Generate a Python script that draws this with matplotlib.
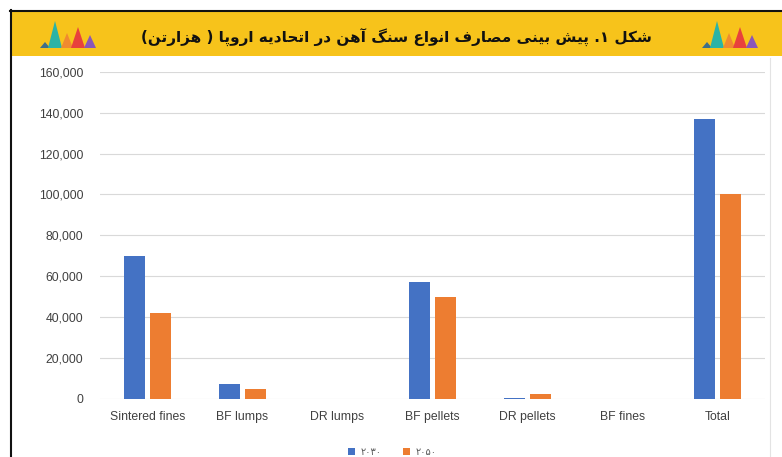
import numpy as np
import matplotlib
matplotlib.use('Agg')
import matplotlib.pyplot as plt
from matplotlib.patches import Rectangle, Polygon
from matplotlib.lines import Line2D
from matplotlib.ticker import FuncFormatter

categories = ['Sintered fines', 'BF lumps', 'DR lumps', 'BF pellets',
              'DR pellets', 'BF fines', 'Total']
values_2030 = [70000, 7500, 0, 57000, 700, 0, 137000]
values_2050 = [42000, 5000, 0, 50000, 2500, 0, 100000]
series_labels = ['۲۰۳۰', '۲۰۵۰']
title = 'شکل ۱. پیش بینی مصارف انواع سنگ آهن در اتحادیه اروپا ( هزارتن)'
y_ticks = [0, 20000, 40000, 60000, 80000, 100000, 120000, 140000, 160000]

# arabic presentation forms: isolated, final, initial, medial
FORMS = {
    'ا': (0xFE8D, 0xFE8E, None, None), 'آ': (0xFE81, 0xFE82, None, None),
    'ب': (0xFE8F, 0xFE90, 0xFE91, 0xFE92), 'پ': (0xFB56, 0xFB57, 0xFB58, 0xFB59),
    'ت': (0xFE95, 0xFE96, 0xFE97, 0xFE98), 'ح': (0xFEA1, 0xFEA2, 0xFEA3, 0xFEA4),
    'د': (0xFEA9, 0xFEAA, None, None), 'ر': (0xFEAD, 0xFEAE, None, None),
    'ز': (0xFEAF, 0xFEB0, None, None), 'س': (0xFEB1, 0xFEB2, 0xFEB3, 0xFEB4),
    'ش': (0xFEB5, 0xFEB6, 0xFEB7, 0xFEB8), 'ص': (0xFEB9, 0xFEBA, 0xFEBB, 0xFEBC),
    'ع': (0xFEC9, 0xFECA, 0xFECB, 0xFECC), 'ف': (0xFED1, 0xFED2, 0xFED3, 0xFED4),
    'ک': (0xFB8E, 0xFB8F, 0xFB90, 0xFB91), 'گ': (0xFB92, 0xFB93, 0xFB94, 0xFB95),
    'ل': (0xFEDD, 0xFEDE, 0xFEDF, 0xFEE0), 'م': (0xFEE1, 0xFEE2, 0xFEE3, 0xFEE4),
    'ن': (0xFEE5, 0xFEE6, 0xFEE7, 0xFEE8), 'ه': (0xFEE9, 0xFEEA, 0xFEEB, 0xFEEC),
    'و': (0xFEED, 0xFEEE, None, None), 'ی': (0xFBFC, 0xFBFD, 0xFBFE, 0xFBFF),
}


def shape_rtl(text):
    out = []
    for i, ch in enumerate(text):
        if ch not in FORMS:
            out.append(ch)
            continue
        prev = text[i - 1] if i > 0 else ''
        nxt = text[i + 1] if i + 1 < len(text) else ''
        dual = FORMS[ch][2] is not None
        join_prev = prev in FORMS and FORMS[prev][2] is not None
        join_next = dual and nxt in FORMS
        iso, fin, ini, med = FORMS[ch]
        if join_prev and join_next:
            code = med
        elif join_prev:
            code = fin
        elif join_next:
            code = ini
        else:
            code = iso
        out.append(chr(code))
    swap = {'(': ')', ')': '('}
    return ''.join(swap.get(c, c) for c in reversed(out))


blue = '#4472C4'
orange = '#ED7D31'
tick_font = ['Liberation Sans Narrow', 'Liberation Sans', 'DejaVu Sans']

fig = plt.figure(figsize=(7.82, 4.57), dpi=100)

# frame and header band in pixel coordinates
deco = fig.add_axes([0, 0, 1, 1], zorder=0)
deco.set_xlim(0, 782)
deco.set_ylim(457, 0)
deco.axis('off')
deco.add_patch(Rectangle((10, 12), 772, 44, color='#F7C31B', lw=0))
deco.add_line(Line2D([10, 782], [10.5, 10.5], color='#111111', lw=1.5))
deco.add_line(Line2D([10.5, 10.5], [10, 457], color='#111111', lw=1.5))
deco.add_line(Line2D([770, 770], [58, 457], color='#E3E3E3', lw=0.8))

tri_colors = ['#3F6F8A', '#2BB3A6', '#F08A30', '#E8413C', '#8A56B8']
for x0 in (40, 702):
    deco.add_patch(Polygon([(x0, 48), (x0 + 5, 42), (x0 + 10, 48)], color=tri_colors[0], lw=0))
    deco.add_patch(Polygon([(x0 + 8, 48), (x0 + 15, 21), (x0 + 22, 48)], color=tri_colors[1], lw=0))
    deco.add_patch(Polygon([(x0 + 21, 48), (x0 + 27, 33), (x0 + 33, 48)], color=tri_colors[2], lw=0))
    deco.add_patch(Polygon([(x0 + 31, 48), (x0 + 38, 27), (x0 + 45, 48)], color=tri_colors[3], lw=0))
    deco.add_patch(Polygon([(x0 + 44, 48), (x0 + 50, 35), (x0 + 56, 48)], color=tri_colors[4], lw=0))

deco.text(396, 38, shape_rtl(title), ha='center', va='center', fontsize=11,
          fontweight='bold', color='#111111', family='DejaVu Sans')

ax = fig.add_axes([0.128, 0.127, 0.850, 0.716], zorder=1)
ax.patch.set_alpha(0)
x = np.arange(len(categories))
w = 0.22
ax.bar(x - 0.135, values_2030, w, color=blue, label=series_labels[0], zorder=3)
ax.bar(x + 0.135, values_2050, w, color=orange, label=series_labels[1], zorder=3)

ax.set_xlim(-0.5, len(categories) - 0.5)
ax.set_ylim(0, 160000)
ax.set_yticks(y_ticks)
ax.yaxis.set_major_formatter(FuncFormatter(lambda v, p: '{:,.0f}'.format(v)))
ax.set_xticks(x)
ax.set_xticklabels(categories)
ax.grid(axis='y', color='#D9D9D9', lw=0.8, zorder=0)
for s in ax.spines.values():
    s.set_visible(False)
ax.tick_params(length=0, colors='#404040', labelsize=8.8)
ax.tick_params(axis='y', pad=12)
ax.tick_params(axis='x', pad=9)
for lab in ax.get_xticklabels() + ax.get_yticklabels():
    lab.set_family(tick_font)

fig.legend(loc='center', bbox_to_anchor=(0.502, 0.011), ncol=2, frameon=False,
           handlelength=0.7, handleheight=0.7, columnspacing=2.2,
           handletextpad=0.6, labelcolor='#595959',
           prop={'family': 'DejaVu Sans', 'size': 7})

fig.savefig('out.png', dpi=100)
